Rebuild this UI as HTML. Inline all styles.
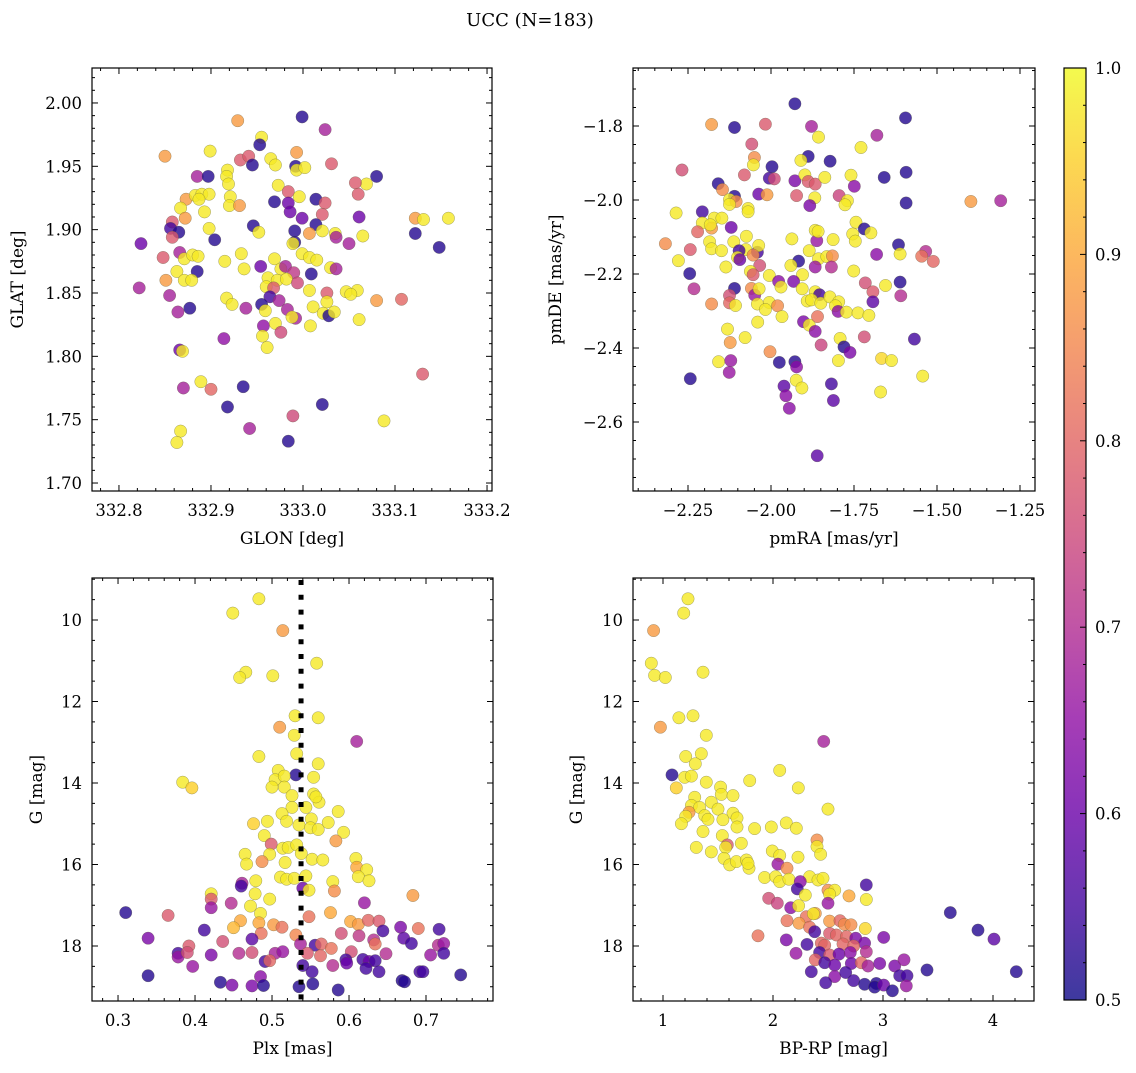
<!DOCTYPE html>
<html><head><meta charset="utf-8"><style>
html,body{margin:0;padding:0;background:#fff;}
svg text{font-family:"DejaVu Serif","Liberation Serif",serif;fill:#000;}
</style></head><body>
<svg id="fig" width="1136" height="1068" viewBox="0 0 1136 1068" xmlns="http://www.w3.org/2000/svg">
<text x="530" y="26" text-anchor="middle" font-size="18">UCC (N=183)</text>
<defs>
<linearGradient id="cbgrad" x1="0" y1="1" x2="0" y2="0">
<stop offset="0" stop-color="#0d0887"/><stop offset="0.1" stop-color="#41049d"/><stop offset="0.2" stop-color="#6a00a8"/><stop offset="0.3" stop-color="#8f0da4"/><stop offset="0.4" stop-color="#b12a90"/><stop offset="0.5" stop-color="#cc4778"/><stop offset="0.6" stop-color="#e16462"/><stop offset="0.7" stop-color="#f2844b"/><stop offset="0.8" stop-color="#fca636"/><stop offset="0.9" stop-color="#fcce25"/><stop offset="1" stop-color="#f0f921"/>
</linearGradient>
</defs>
</svg>
<script>
// ---- Panel 1: GLON / GLAT ----
const glon=[332.999,333.024,332.929,332.955,332.953,332.899,332.850,332.993,332.932,332.941,332.945,332.965,332.970,332.992,332.993,333.002,333.031,333.080,333.069,333.057,333.060,332.885,332.897,332.918,332.917,332.919,332.921,332.920,332.931,332.973,332.984,332.996,332.969,332.984,332.986,332.999,333.014,333.024,333.021,333.061,333.014,333.021,333.007,333.035,333.036,333.050,333.065,332.991,332.991,332.989,332.999,333.007,333.015,332.946,332.952,332.873,332.883,332.890,332.898,332.887,332.867,332.872,332.893,332.858,332.856,332.865,332.858,332.898,332.904,332.824,333.122,333.131,333.158,333.122,333.148,332.848,332.866,332.871,332.880,332.886,332.915,332.933,332.936,332.954,332.969,332.976,332.981,332.990,333.009,333.030,333.036,332.863,332.885,332.871,332.879,332.851,332.822,332.855,332.962,332.972,332.982,332.994,332.960,332.968,333.007,333.026,333.047,333.059,333.052,333.080,333.107,333.026,332.964,332.974,332.955,332.959,332.983,332.992,332.988,333.011,333.022,333.028,333.034,333.061,333.008,332.917,332.923,332.938,332.877,332.864,332.957,332.970,332.976,332.956,332.961,332.914,332.866,332.869,333.130,332.889,332.870,332.900,332.935,332.918,333.021,332.989,333.088,332.867,332.863,332.942,332.984];
const glat=[1.989,1.979,1.986,1.973,1.967,1.962,1.958,1.961,1.955,1.958,1.951,1.956,1.951,1.950,1.947,1.949,1.952,1.942,1.936,1.937,1.928,1.942,1.942,1.947,1.942,1.936,1.926,1.919,1.919,1.935,1.930,1.926,1.922,1.921,1.914,1.909,1.924,1.921,1.912,1.910,1.904,1.899,1.897,1.897,1.894,1.889,1.895,1.899,1.890,1.889,1.881,1.878,1.876,1.903,1.898,1.924,1.927,1.928,1.928,1.924,1.917,1.909,1.914,1.906,1.901,1.898,1.894,1.901,1.892,1.889,1.909,1.908,1.909,1.897,1.886,1.878,1.882,1.877,1.880,1.879,1.875,1.881,1.869,1.871,1.877,1.869,1.871,1.866,1.865,1.870,1.869,1.867,1.867,1.860,1.860,1.860,1.854,1.848,1.862,1.860,1.861,1.858,1.855,1.854,1.852,1.850,1.851,1.852,1.849,1.844,1.845,1.843,1.847,1.844,1.841,1.836,1.837,1.830,1.831,1.839,1.834,1.832,1.835,1.829,1.824,1.846,1.841,1.838,1.838,1.835,1.824,1.826,1.819,1.816,1.807,1.814,1.805,1.804,1.786,1.780,1.775,1.774,1.776,1.760,1.762,1.753,1.749,1.741,1.732,1.743,1.733];
const prob1=[.52,.68,.88,.98,.52,.98,.88,.88,.78,.78,.52,.98,.98,.52,.98,.98,.78,.52,.98,.78,.78,.68,.52,.98,.98,.98,.98,.98,.88,.98,.78,.98,.52,.6,.6,.6,.52,.78,.78,.6,.52,.98,.88,.98,.68,.68,.98,.52,.52,.98,.98,.98,.98,.52,.98,.88,.98,.98,.98,.98,.98,.88,.98,.78,.55,.52,.78,.98,.52,.6,.88,.98,.98,.52,.52,.78,.68,.98,.98,.98,.98,.98,.98,.6,.98,.98,.68,.72,.52,.98,.68,.98,.52,.98,.98,.88,.68,.68,.98,.98,.98,.75,.98,.78,.98,.78,.98,.98,.98,.88,.8,.98,.55,.68,.52,.98,.68,.68,.98,.98,.98,.52,.98,.98,.98,.98,.98,.68,.52,.68,.65,.98,.75,.98,.98,.65,.6,.98,.78,.98,.68,.8,.52,.52,.52,.75,.98,.98,.98,.68,.52];
const p1XTicks=["332.8","332.9","333.0","333.1","333.2"];
const p1YTicks=["1.70","1.75","1.80","1.85","1.90","1.95","2.00"];

// ---- Panel 2: pmRA / pmDE ----
const pmra=[-1.928,-1.595,-2.179,-2.110,-2.017,-1.878,-1.857,-1.681,-1.729,-2.058,-2.050,-2.053,-1.888,-1.910,-1.822,-2.268,-1.997,-2.005,-1.990,-2.080,-2.159,-2.146,-2.110,-2.125,-2.105,-2.125,-2.037,-2.012,-1.928,-1.898,-1.888,-1.867,-1.838,-1.923,-1.868,-1.883,-1.759,-1.749,-1.795,-1.770,-1.777,-1.659,-1.593,-1.593,-1.398,-1.308,-2.286,-2.207,-2.171,-2.148,-2.207,-2.179,-2.221,-2.183,-2.120,-2.069,-2.069,-2.318,-2.243,-2.279,-2.185,-2.179,-2.149,-2.112,-2.074,-2.076,-2.096,-2.041,-2.037,-2.054,-2.101,-2.094,-2.136,-2.034,-2.245,-2.062,-2.054,-2.005,-1.937,-1.917,-1.940,-1.905,-1.885,-1.862,-1.867,-1.858,-1.813,-1.857,-1.867,-1.832,-1.815,-1.818,-1.754,-1.746,-1.744,-1.719,-1.699,-1.751,-1.682,-1.616,-1.611,-1.534,-1.546,-1.511,-2.232,-2.179,-2.110,-2.125,-2.125,-2.107,-2.059,-2.049,-2.036,-2.041,-2.005,-1.980,-2.017,-1.977,-1.970,-1.932,-1.906,-1.891,-1.867,-1.854,-1.878,-1.850,-1.823,-1.796,-1.806,-1.798,-1.773,-1.738,-1.705,-1.716,-1.693,-1.693,-1.655,-1.611,-1.609,-1.967,-2.040,-1.902,-1.885,-1.860,-1.867,-2.131,-2.123,-2.078,-1.849,-1.792,-1.780,-1.762,-1.719,-1.568,-2.003,-1.975,-1.928,-1.923,-2.158,-2.121,-2.126,-1.797,-1.667,-1.637,-1.543,-2.243,-1.924,-1.907,-1.961,-1.955,-1.945,-1.818,-1.812,-1.670,-1.861];
const pmde=[-1.740,-1.778,-1.796,-1.804,-1.795,-1.801,-1.830,-1.825,-1.858,-1.849,-1.885,-1.905,-1.882,-1.893,-1.895,-1.919,-1.910,-1.941,-1.943,-1.932,-1.956,-1.972,-1.990,-1.999,-2.004,-2.012,-1.984,-1.986,-1.948,-1.932,-1.950,-1.957,-1.939,-1.988,-1.994,-2.015,-1.933,-1.963,-1.988,-2.002,-2.013,-1.939,-1.925,-2.008,-2.004,-2.002,-2.035,-2.032,-2.049,-2.049,-2.062,-2.076,-2.086,-2.067,-2.074,-2.023,-2.032,-2.118,-2.134,-2.164,-2.113,-2.132,-2.137,-2.113,-2.098,-2.134,-2.137,-2.141,-2.123,-2.149,-2.155,-2.161,-2.181,-2.177,-2.199,-2.193,-2.202,-2.204,-2.105,-2.165,-2.177,-2.202,-2.137,-2.110,-2.082,-2.085,-2.107,-2.159,-2.181,-2.153,-2.151,-2.181,-2.092,-2.111,-2.060,-2.078,-2.089,-2.192,-2.147,-2.121,-2.146,-2.139,-2.152,-2.166,-2.240,-2.281,-2.239,-2.258,-2.278,-2.285,-2.239,-2.257,-2.240,-2.281,-2.277,-2.286,-2.296,-2.220,-2.235,-2.220,-2.240,-2.273,-2.248,-2.256,-2.270,-2.279,-2.262,-2.275,-2.286,-2.301,-2.303,-2.305,-2.312,-2.224,-2.248,-2.275,-2.231,-2.222,-2.259,-2.315,-2.330,-2.329,-2.338,-2.315,-2.355,-2.349,-2.385,-2.372,-2.392,-2.374,-2.397,-2.412,-2.370,-2.376,-2.410,-2.439,-2.437,-2.451,-2.437,-2.434,-2.466,-2.434,-2.428,-2.434,-2.476,-2.483,-2.487,-2.508,-2.503,-2.529,-2.563,-2.497,-2.542,-2.519,-2.691];
const prob2=[.52,.52,.88,.52,.78,.68,.98,.68,.98,.76,.86,.98,.52,.98,.52,.76,.52,.55,.75,.78,.52,.86,.52,.98,.86,.98,.6,.88,.62,.98,.78,.78,.98,.78,.98,.62,.98,.64,.74,.98,.98,.52,.52,.52,.88,.68,.98,.55,.98,.98,.98,.88,.8,.98,.6,.98,.98,.86,.78,.98,.98,.98,.98,.98,.98,.98,.55,.55,.98,.86,.98,.6,.98,.76,.52,.98,.78,.98,.98,.52,.98,.98,.98,.66,.98,.98,.98,.98,.66,.98,.86,.7,.98,.98,.98,.52,.98,.98,.64,.52,.98,.7,.82,.8,.7,.86,.52,.76,.8,.98,.86,.66,.98,.98,.98,.86,.98,.64,.98,.62,.98,.98,.98,.55,.98,.98,.98,.98,.98,.64,.98,.98,.98,.76,.78,.58,.98,.52,.7,.98,.98,.62,.98,.82,.64,.98,.88,.98,.74,.98,.52,.62,.76,.55,.86,.52,.52,.64,.98,.66,.66,.98,.96,.98,.98,.52,.98,.98,.58,.64,.64,.55,.58,.98,.58];
const p2XTicks=["\u22122.25","\u22122.00","\u22121.75","\u22121.50","\u22121.25"];
const p2YTicks=["\u22122.6","\u22122.4","\u22122.2","\u22122.0","\u22121.8"];

// ---- Panel 3: Plx / G ----
const plx=[0.483,0.449,0.514,0.558,0.466,0.458,0.501,0.530,0.560,0.510,0.529,0.610,0.532,0.483,0.560,0.508,0.531,0.554,0.384,0.396,0.504,0.516,0.500,0.516,0.526,0.554,0.561,0.557,0.586,0.526,0.544,0.513,0.476,0.494,0.519,0.551,0.573,0.535,0.550,0.560,0.593,0.490,0.499,0.514,0.521,0.532,0.583,0.465,0.497,0.538,0.467,0.487,0.517,0.552,0.566,0.609,0.610,0.623,0.511,0.519,0.529,0.544,0.612,0.626,0.479,0.579,0.461,0.460,0.540,0.548,0.421,0.421,0.478,0.581,0.683,0.497,0.447,0.620,0.421,0.472,0.310,0.365,0.485,0.576,0.548,0.459,0.483,0.502,0.513,0.602,0.612,0.625,0.639,0.450,0.412,0.644,0.667,0.690,0.717,0.486,0.531,0.590,0.613,0.339,0.436,0.474,0.537,0.556,0.564,0.577,0.632,0.634,0.671,0.681,0.716,0.723,0.392,0.378,0.378,0.390,0.421,0.457,0.474,0.504,0.514,0.546,0.563,0.603,0.596,0.618,0.626,0.634,0.648,0.706,0.723,0.491,0.497,0.397,0.540,0.579,0.597,0.622,0.639,0.552,0.339,0.485,0.692,0.696,0.745,0.433,0.448,0.474,0.489,0.535,0.553,0.586,0.669,0.672];
const gmag3=[9.48,9.83,10.26,11.06,11.28,11.41,11.37,12.35,12.40,12.63,12.83,12.98,13.28,13.35,13.53,13.69,13.80,13.86,13.98,14.12,13.92,13.83,14.10,14.10,14.31,14.27,14.47,14.34,14.70,14.60,14.60,14.75,15.00,14.94,14.94,14.88,14.97,15.03,15.10,15.14,15.21,15.29,15.50,15.60,15.58,15.52,15.42,15.75,15.75,15.73,15.99,15.93,15.95,15.87,15.89,15.85,16.07,16.13,16.31,16.36,16.34,16.28,16.30,16.40,16.40,16.42,16.46,16.53,16.58,16.63,16.72,16.85,16.72,16.65,16.76,16.85,16.95,16.94,17.06,17.02,17.18,17.25,17.20,17.18,17.28,17.38,17.43,17.48,17.54,17.40,17.47,17.37,17.39,17.55,17.61,17.63,17.54,17.57,17.59,17.69,17.73,17.69,17.75,17.81,17.89,17.83,17.95,17.98,17.95,18.06,17.85,17.95,17.81,17.94,17.98,17.94,18.00,18.18,18.27,18.16,18.22,18.18,18.16,18.18,18.14,18.18,18.24,18.14,18.34,18.33,18.38,18.36,18.19,18.22,18.18,18.38,18.36,18.50,18.48,18.48,18.42,18.55,18.63,18.63,18.73,18.75,18.63,18.63,18.71,18.89,18.96,18.98,18.97,19.00,18.93,19.08,18.85,18.88];
const prob3=[.98,.98,.88,.98,.98,.98,.98,.98,.98,.88,.98,.68,.98,.98,.98,.98,.52,.98,.98,.95,.98,.98,.98,.98,.98,.98,.98,.98,.98,.98,.98,.98,.95,.98,.98,.98,.98,.98,.98,.98,.98,.98,.78,.98,.98,.98,.88,.98,.98,.98,.98,.86,.98,.98,.98,.98,.9,.98,.98,.98,.98,.98,.98,.98,.98,.98,.68,.55,.6,.98,.98,.78,.98,.86,.88,.98,.7,.66,.66,.98,.52,.78,.98,.9,.82,.9,.9,.88,.82,.9,.88,.8,.78,.92,.55,.55,.62,.82,.55,.82,.85,.76,.72,.62,.76,.58,.68,.55,.8,.82,.7,.82,.58,.55,.7,.66,.78,.55,.66,.76,.62,.7,.76,.68,.66,.78,.8,.76,.55,.55,.6,.55,.7,.66,.55,.55,.8,.66,.55,.7,.6,.55,.55,.55,.52,.64,.55,.55,.52,.52,.62,.62,.52,.52,.52,.52,.52,.52];
const p3XTicks=["0.3","0.4","0.5","0.6","0.7"];
const p3YTicks=["10","12","14","16","18"];
const plxMedian=[0.5377];

// ---- Panel 4: BP-RP / G ----
const bprp=[1.227,1.188,0.915,0.894,0.924,1.021,1.364,1.145,1.273,0.976,1.394,2.461,1.206,1.348,1.294,1.082,1.197,1.258,2.061,1.394,1.788,1.121,1.524,1.530,1.636,2.230,1.288,1.258,1.333,1.439,1.500,2.500,1.236,1.206,1.636,1.379,1.409,1.545,1.673,1.167,2.121,1.833,1.985,2.212,1.673,1.364,1.539,1.585,1.712,1.303,1.439,1.570,1.555,1.606,1.667,1.758,1.782,1.773,2.400,2.400,2.433,1.994,2.061,2.227,2.045,2.127,1.924,2.024,2.061,2.145,2.333,2.409,2.455,2.248,2.221,2.294,2.500,2.561,2.515,2.848,2.691,2.848,1.961,2.039,2.161,2.233,2.500,2.385,2.303,2.367,2.127,2.236,2.333,2.379,2.515,2.609,2.648,2.709,2.839,1.864,2.121,2.309,2.439,2.515,2.576,2.667,2.752,2.833,3.006,2.470,2.636,2.733,2.209,2.424,2.515,2.600,2.703,2.848,2.385,2.470,2.561,2.712,2.803,2.864,2.970,3.106,3.191,2.348,2.561,2.661,2.733,3.152,3.218,3.400,2.479,2.833,2.939,2.924,3.006,3.085,3.212,3.612,3.864,4.009,4.212];
const gmag4=[9.48,9.83,10.26,11.06,11.36,11.41,11.28,12.40,12.35,12.63,12.83,12.98,13.35,13.28,13.53,13.80,13.86,13.83,13.69,13.98,13.94,14.12,14.10,14.28,14.31,14.12,14.35,14.55,14.60,14.47,14.64,14.64,14.72,14.82,14.74,14.80,14.89,14.90,14.86,15.00,14.98,15.12,15.08,15.11,15.08,15.19,15.29,15.52,15.48,15.58,15.69,15.58,15.85,16.01,15.93,15.89,16.09,15.97,15.40,15.56,15.75,15.67,15.78,15.82,15.99,16.09,16.32,16.30,16.42,16.36,16.30,16.38,16.34,16.42,16.60,16.75,16.63,16.63,16.73,16.50,16.77,16.86,16.83,16.95,17.06,17.01,16.95,17.20,17.28,17.21,17.38,17.44,17.54,17.65,17.39,17.38,17.47,17.48,17.57,17.75,17.85,17.96,17.93,17.69,17.73,17.77,17.81,17.93,17.79,17.98,17.95,18.00,18.18,18.16,18.22,18.20,18.16,18.14,18.34,18.41,18.47,18.43,18.41,18.49,18.43,18.49,18.34,18.63,18.75,18.65,18.85,18.73,18.73,18.59,18.90,18.94,18.92,19.01,18.96,19.10,18.98,17.18,17.61,17.83,18.63];
const prob4=[.98,.98,.88,.98,.98,.98,.98,.98,.98,.88,.98,.68,.98,.98,.98,.52,.98,.98,.98,.98,.98,.95,.98,.98,.98,.98,.98,.98,.98,.98,.98,.98,.88,.98,.98,.98,.98,.98,.98,.98,.98,.98,.98,.98,.98,.98,.98,.78,.98,.98,.98,.98,.98,.98,.98,.98,.98,.98,.86,.98,.98,.98,.98,.98,.66,.86,.98,.98,.98,.98,.98,.98,.98,.64,.55,.98,.86,.98,.98,.55,.9,.98,.76,.74,.64,.98,.66,.88,.82,.98,.82,.88,.82,.55,.88,.8,.86,.86,.96,.82,.62,.55,.8,.78,.8,.8,.62,.62,.62,.8,.8,.8,.66,.55,.78,.6,.64,.7,.8,.55,.6,.6,.8,.68,.62,.62,.66,.55,.64,.55,.55,.55,.55,.52,.55,.52,.52,.52,.6,.52,.66,.52,.52,.58,.52];
const p4XTicks=["1","2","3","4"];
const p4YTicks=["10","12","14","16","18"];

// colorbar
const cbTicks=["0.5","0.6","0.7","0.8","0.9","1.0"];

const NS="http://www.w3.org/2000/svg";
const svg=document.getElementById('fig');
function mk(tag,attrs,parent){const e=document.createElementNS(NS,tag);for(const k in attrs)e.setAttribute(k,attrs[k]);(parent||svg).appendChild(e);return e;}
const plasma=[[13,8,135],[65,4,157],[106,0,168],[143,13,164],[177,42,144],[204,71,120],[225,100,98],[242,132,75],[252,166,54],[252,206,37],[240,249,33]];
function cmap(p){let t=(p-0.5)/0.5;t=Math.max(0,Math.min(1,t));const f=t*10,i=Math.min(9,Math.floor(f)),r=f-i;const a=plasma[i],b=plasma[i+1];return `rgb(${Math.round(a[0]+(b[0]-a[0])*r)},${Math.round(a[1]+(b[1]-a[1])*r)},${Math.round(a[2]+(b[2]-a[2])*r)})`;}

function panel(cfg){
  const {x0,x1,y0,y1,xmin,xmax,ymin,ymax,inv}=cfg;
  const sx=v=>x0+(v-xmin)/(xmax-xmin)*(x1-x0);
  const sy=inv?(v=>y0+(v-ymin)/(ymax-ymin)*(y1-y0)):(v=>y1-(v-ymin)/(ymax-ymin)*(y1-y0));
  const g=mk('g',{});
  
  
  const pts=mk('g',{},g);
  
  
  for(let i=0;i<cfg.xs.length;i++){
    const c=mk('circle',{cx:sx(cfg.xs[i]).toFixed(1),cy:sy(cfg.ys[i]).toFixed(1),r:6.2,fill:cmap(cfg.cs[i]),'fill-opacity':0.8,stroke:'rgba(90,90,60,0.55)','stroke-width':0.5},pts);
    
    
  }
  if(cfg.vline){
    const l=mk('line',{x1:sx(cfg.vline[0]),x2:sx(cfg.vline[0]),y1:y0+2,y2:y1,stroke:'#000','stroke-width':5,'stroke-dasharray':'5 9.8'},g);
    
    
  }
  const fr=mk('rect',{x:x0,y:y0,width:x1-x0,height:y1-y0,fill:'none',stroke:'#000','stroke-width':1.2},g);
  
  
  const tg=mk('g',{stroke:'#000','stroke-width':1},g);
  
  
  const eps=1e-9;
  for(let v=Math.ceil(xmin/cfg.xminor-eps)*cfg.xminor;v<=xmax+eps;v+=cfg.xminor){
    const major=Math.abs(v/cfg.xmajor-Math.round(v/cfg.xmajor))<1e-4;const L=major?6:3;const X=sx(v);
    mk('line',{x1:X,x2:X,y1:y1,y2:y1-L},tg);mk('line',{x1:X,x2:X,y1:y0,y2:y0+L},tg);
  }
  for(let v=Math.ceil(ymin/cfg.yminor-eps)*cfg.yminor;v<=ymax+eps;v+=cfg.yminor){
    const major=Math.abs(v/cfg.ymajor-Math.round(v/cfg.ymajor))<1e-4;const L=major?6:3;const Y=sy(v);
    mk('line',{x1:x0,x2:x0+L,y1:Y,y2:Y},tg);mk('line',{x1:x1,x2:x1-L,y1:Y,y2:Y},tg);
  }
  cfg.xticks.forEach(s=>{const v=parseFloat(s.replace('\u2212','-'));const t=mk('text',{x:sx(v),y:y1+25,'text-anchor':'middle','font-size':16.5},g);t.textContent=s;});
  cfg.yticks.forEach(s=>{const v=parseFloat(s.replace('\u2212','-'));const t=mk('text',{x:x0-10,y:sy(v)+6,'text-anchor':'end','font-size':16.5},g);t.textContent=s;});
  const xl=mk('text',{x:(x0+x1)/2,y:y1+53,'text-anchor':'middle','font-size':17},g);xl.textContent=cfg.xlabel;
  
  const yl=mk('text',{x:cfg.ylx,y:(y0+y1)/2,'text-anchor':'middle','font-size':17,transform:`rotate(-90 ${cfg.ylx} ${(y0+y1)/2})`},g);yl.textContent=cfg.ylabel;
  
}
panel({name:'glon-glat-panel',x0:92,x1:492,y0:68,y1:491,xmin:332.7707,xmax:333.2054,ymin:1.6937,ymax:2.0276,xs:glon,ys:glat,cs:prob1,xmajor:0.1,xminor:0.02,ymajor:0.05,yminor:0.01,xticks:p1XTicks,yticks:p1YTicks,xlabel:'GLON [deg]',ylabel:'GLAT [deg]',ylx:23});
panel({name:'pm-panel',x0:633,x1:1035,y0:68,y1:491,xmin:-2.4157,xmax:-1.2048,ymin:-2.7865,ymax:-1.6432,xs:pmra,ys:pmde,cs:prob2,xmajor:0.25,xminor:0.05,ymajor:0.2,yminor:0.05,xticks:p2XTicks,yticks:p2YTicks,xlabel:'pmRA [mas/yr]',ylabel:'pmDE [mas/yr]',ylx:561});
panel({name:'plx-g-panel',x0:92,x1:493,y0:578,y1:1001,xmin:0.2662,xmax:0.7870,ymin:8.969,ymax:19.350,inv:true,xs:plx,ys:gmag3,cs:prob3,xmajor:0.1,xminor:0.02,ymajor:2,yminor:0.5,xticks:p3XTicks,yticks:p3YTicks,xlabel:'Plx [mas]',ylabel:'G [mag]',ylx:42,vline:plxMedian});
panel({name:'cmd-panel',x0:633,x1:1034,y0:578,y1:1001,xmin:0.7273,xmax:4.3727,ymin:8.969,ymax:19.350,inv:true,xs:bprp,ys:gmag4,cs:prob4,xmajor:1,xminor:0.2,ymajor:2,yminor:0.5,xticks:p4XTicks,yticks:p4YTicks,xlabel:'BP-RP [mag]',ylabel:'G [mag]',ylx:582});

// colorbar
const cb=mk('g',{});


mk('rect',{x:1064,y:68,width:22,height:932,fill:'url(#cbgrad)','fill-opacity':0.8},cb);
mk('rect',{x:1064,y:68,width:22,height:932,fill:'none',stroke:'#000','stroke-width':1.2},cb);
const cby=v=>1000-(v-0.5)/0.5*932;
for(let k=0;k<=25;k++){const v=0.5+k*0.02;const Y=cby(v);const L=(k%5===0)?6:3;mk('line',{x1:1086,x2:1086-L,y1:Y,y2:Y,stroke:'#000','stroke-width':1},cb);}
cbTicks.forEach(s=>{const t=mk('text',{x:1095,y:cby(parseFloat(s))+6,'font-size':16.5},cb);t.textContent=s;});
</script>
</body></html>
